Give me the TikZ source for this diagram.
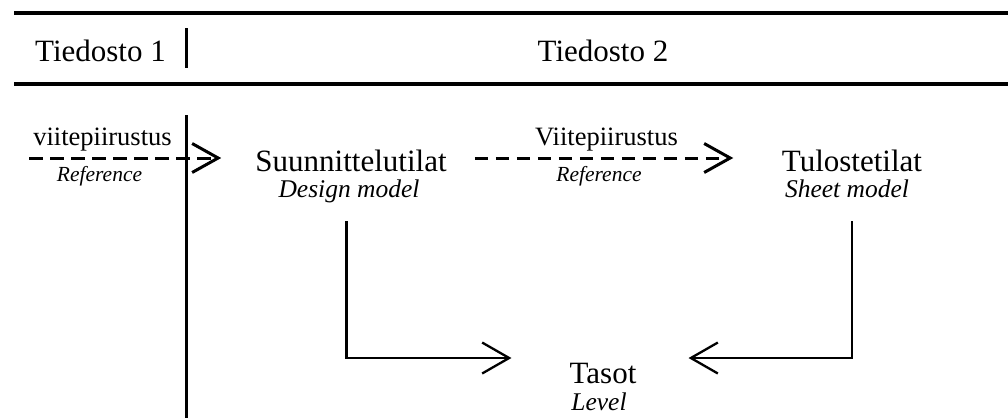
\documentclass[tikz,border=0pt]{standalone}
\usepackage{fontspec}
\setmainfont{Liberation Serif}
\usetikzlibrary{arrows.meta,calc}
\begin{document}
\begin{tikzpicture}[x=1pt,y=-1pt,
  lbl/.style={anchor=base,inner sep=0pt},
  head/.style={lbl,font=\fontsize{31}{31}\selectfont},
  mainlbl/.style={lbl,font=\fontsize{31}{31}\selectfont},
  sublbl/.style={lbl,font=\fontsize{25.5}{25.5}\selectfont\itshape},
  edgetxt/.style={lbl,font=\fontsize{26.5}{26.5}\selectfont},
  edgesub/.style={lbl,font=\fontsize{21.5}{21.5}\selectfont\itshape},
  rule/.style={line width=3.5pt},
  divider/.style={line width=3pt},
  refarrow/.style={line width=3pt,dash pattern=on 13.5pt off 7.5pt,line join=miter,
    -{Straight Barb[length=26pt,width=29pt]}},
  flowarrow/.style={line width=2.3pt,line join=miter,
    -{Straight Barb[length=27pt,width=31pt]}}]
\useasboundingbox (0,0) rectangle (1008,418);
\fill[white] (0,0) rectangle (1008,418);

% header band
\draw[rule] (14,13) -- (1008,13);
\draw[rule] (14,84) -- (1008,84);
\node[head] (hdrA) at (100.5,61) {Tiedosto 1};
\node[head] (hdrB) at (603,61) {Tiedosto 2};
\draw[divider] (186,28) -- (186,68);
\draw[divider] (186,115) -- (186,418);

% models
\node[mainlbl] (design) at (351,171.5) {Suunnittelutilat};
\node[sublbl] (designsub) at (349,197) {Design model};
\node[mainlbl] (sheet) at (852,171.5) {Tulostetilat};
\node[sublbl] (sheetsub) at (847,197) {Sheet model};
\node[mainlbl] (tasot) at (603,383) {Tasot};
\node[sublbl] (level) at (599,410) {Level};

% reference labels
\node[edgetxt] (lblA) at (102.5,145) {viitepiirustus};
\node[edgesub] (refA) at (99.5,181.5) {Reference};
\node[edgetxt] (lblB) at (606.5,145) {Viitepiirustus};
\node[edgesub] (refB) at (599,181.5) {Reference};

% reference arrows
\coordinate (src) at (29,158);
\coordinate (refrow) at (0,158);
\draw[refarrow,shorten >=34pt] (src) -- (design.west |- refrow);
\draw[refarrow,shorten <=28pt,shorten >=48.5pt] (design.east |- refrow) -- (sheet.west |- refrow);

% level arrows
\coordinate (flowrow) at (0,358);
\coordinate (dropL) at ($(designsub.base)+(-2.5,24)$);
\coordinate (dropR) at ($(sheetsub.base)+(5,24)$);
\draw[flowarrow,shorten >=58pt] (dropL) |- (tasot.west |- flowrow);
\draw[flowarrow,shorten >=52pt] (dropR) |- (tasot.east |- flowrow);
\end{tikzpicture}
\end{document}
